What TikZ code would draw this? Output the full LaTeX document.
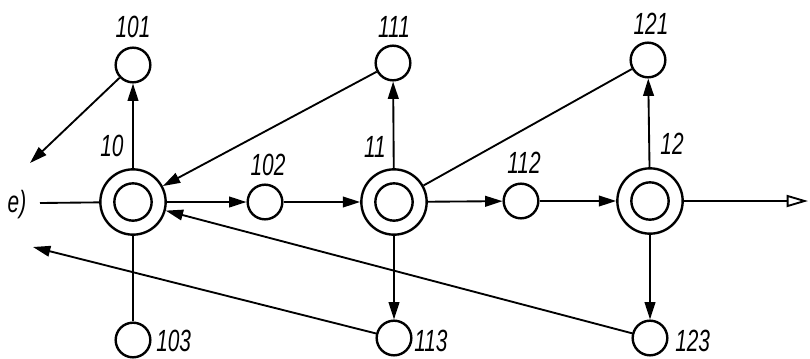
\documentclass[tikz,border=0pt]{standalone}
\usepackage{fontspec}
\setmainfont{Liberation Sans}[FakeStretch=0.68]
\usetikzlibrary{arrows.meta}

\begin{document}
\begin{tikzpicture}[x=0.75pt, y=-0.75pt, >={Triangle[length=13pt,width=8pt]},
  hub/.style={circle, draw, line width=1.8pt, minimum size=49pt, inner sep=0pt},
  leaf/.style={circle, draw, line width=1.8pt, minimum size=26pt, inner sep=0pt},
  num/.style={font=\itshape\fontsize{23}{23}\selectfont, inner sep=0pt},
  link/.style={line width=1.4pt}]
  \useasboundingbox (0,0) rectangle (810,358);
  % hubs
  \node[hub] (n10) at (133,202) {};
  \node[hub] (n11) at (394,202) {};
  \node[hub] (n12) at (650,201) {};
  \foreach \h in {n10,n11,n12}
    \draw[line width=1.8pt] (\h.center) circle (14pt);
  % leaves
  \node[leaf] (n101) at (133,65) {};
  \node[leaf] (n102) at (265,202) {};
  \node[leaf] (n103) at (133,340) {};
  \node[leaf] (n111) at (393,63) {};
  \node[leaf] (n112) at (521,201) {};
  \node[leaf] (n113) at (394,338) {};
  \node[leaf] (n121) at (648,60) {};
  \node[leaf] (n123) at (650,338) {};
  % free ends
  \coordinate (in) at (40,203);
  \coordinate (out101) at (30,163);
  \coordinate (out113) at (33,247);
  \coordinate (out12) at (808,201);
  % labels
  \node[num] (le) at (17,205) {e)};
  \node[num] (l10) at (112,146) {10};
  \node[num] (l11) at (375,147) {11};
  \node[num] (l12) at (672,144) {12};
  \node[num] (l101) at (133,27) {101};
  \node[num] (l102) at (268,165) {102};
  \node[num, anchor=west] (l103) at (156,341) {103};
  \node[num] (l111) at (394,27) {111};
  \node[num] (l112) at (524,163) {112};
  \node[num, anchor=west] (l113) at (414,341) {113};
  \node[num] (l121) at (651,24) {121};
  \node[num, anchor=west] (l123) at (675,341) {123};
  % connectors
  \draw[link] (in) -- (n10);
  \draw[link,->] (n10) -- (n101);
  \draw[link,->] (n101) -- (out101);
  \draw[link] (n10) -- (n103);
  \draw[link,->] (n10) -- (n102);
  \draw[link,->] (n102) -- (n11);
  \draw[link,->] (n111) -- (n10);
  \draw[link,->] (n123) -- (n10);
  \draw[link,->] (n11) -- (n111);
  \draw[link,->] (n11) -- (n112);
  \draw[link,->] (n11) -- (n113);
  \draw[link] (n11) -- (n121);
  \draw[link,->] (n113) -- (out113);
  \draw[link,->] (n112) -- (n12);
  \draw[link,->] (n12) -- (n121);
  \draw[link,->] (n12) -- (n123);
  \draw[link,-{Triangle[open,length=16pt,width=9pt]}] (n12) -- (out12);
\end{tikzpicture}
\end{document}
